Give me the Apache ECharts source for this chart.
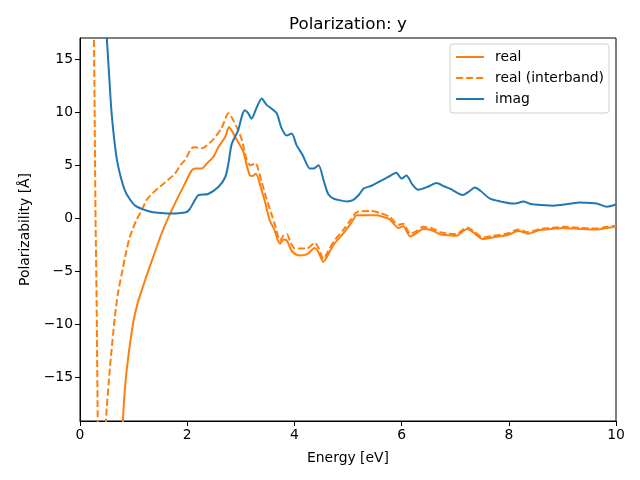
<!DOCTYPE html>
<html><head><meta charset="utf-8">
<script src="https://cdn.jsdelivr.net/npm/echarts@6/dist/echarts.min.js"></script>
<style>html,body{margin:0;padding:0;background:#fff}#c{width:640px;height:480px}</style>
</head><body><div id="c"></div>
<script>
const xTicks = [0, 2, 4, 6, 8, 10];
const yTicks = [-15, -10, -5, 0, 5, 10, 15];
const seriesNames = ['real', 'real (interband)', 'imag'];

const realData = [[0.74,-28],[0.80,-19.1],[0.84,-15.9],[0.90,-13.1],[0.99,-9.9],[1.07,-8.1],[1.15,-6.8],[1.25,-5.3],[1.34,-4.0],[1.52,-1.45],[1.65,0.1],[1.80,1.7],[1.95,3.2],[2.08,4.5],[2.15,4.7],[2.27,4.7],[2.39,5.3],[2.49,5.8],[2.58,6.7],[2.71,7.7],[2.78,8.6],[2.84,8.2],[2.89,7.7],[2.95,7.2],[3.05,6.25],[3.11,5.0],[3.17,4.05],[3.22,4.0],[3.28,4.2],[3.39,2.6],[3.46,1.4],[3.54,-0.2],[3.62,-1.0],[3.73,-2.4],[3.80,-2.0],[3.86,-2.1],[3.93,-2.9],[4.01,-3.35],[4.10,-3.5],[4.23,-3.4],[4.38,-2.8],[4.45,-3.2],[4.54,-4.1],[4.62,-3.5],[4.73,-2.5],[4.91,-1.45],[5.05,-0.5],[5.17,0.3],[5.35,0.3],[5.53,0.3],[5.65,0.15],[5.78,-0.1],[5.94,-0.9],[6.03,-0.75],[6.16,-1.7],[6.28,-1.4],[6.40,-1.0],[6.55,-1.1],[6.72,-1.5],[6.88,-1.6],[7.03,-1.65],[7.12,-1.3],[7.22,-1.0],[7.33,-1.3],[7.52,-1.95],[7.70,-1.8],[7.96,-1.6],[8.18,-1.2],[8.36,-1.45],[8.58,-1.1],[8.80,-1.0],[9.02,-0.9],[9.33,-1.0],[9.50,-1.05],[9.64,-1.05],[9.83,-0.9],[10.0,-0.8]];

const interbandData = [[0.22,30],[0.26,17.1],[0.29,0.0],[0.31,-7.7],[0.33,-19],[0.36,-35],[0.42,-40],[0.46,-24],[0.485,-19],[0.56,-14.0],[0.65,-9.3],[0.71,-7.0],[0.78,-5.2],[0.86,-3.2],[0.93,-1.75],[1.05,-0.2],[1.15,0.75],[1.24,1.7],[1.36,2.4],[1.52,3.1],[1.77,4.2],[1.87,5.0],[1.96,5.5],[2.08,6.6],[2.15,6.7],[2.27,6.6],[2.46,7.3],[2.64,8.5],[2.77,9.9],[2.86,9.25],[2.95,8.3],[3.02,7.4],[3.11,5.5],[3.18,5.0],[3.27,5.2],[3.39,3.4],[3.47,2.0],[3.58,0.3],[3.65,-0.8],[3.73,-2.1],[3.80,-1.6],[3.86,-1.5],[3.93,-2.3],[4.01,-2.85],[4.23,-2.85],[4.38,-2.3],[4.45,-2.8],[4.54,-3.8],[4.62,-3.2],[4.73,-2.2],[4.91,-1.1],[5.05,-0.15],[5.17,0.6],[5.41,0.7],[5.60,0.5],[5.78,0.15],[5.94,-0.6],[6.03,-0.5],[6.16,-1.45],[6.28,-1.2],[6.40,-0.8],[6.55,-0.9],[6.72,-1.3],[6.88,-1.45],[7.03,-1.5],[7.12,-1.15],[7.22,-0.85],[7.33,-1.15],[7.52,-1.8],[7.70,-1.65],[7.96,-1.45],[8.18,-1.05],[8.36,-1.3],[8.58,-1.0],[8.80,-0.9],[9.02,-0.8],[9.33,-0.9],[9.50,-0.95],[9.64,-0.95],[9.83,-0.8],[10.0,-0.7]];

const imagData = [[0.45,22],[0.50,17],[0.53,14.6],[0.59,9.9],[0.68,5.8],[0.76,3.9],[0.84,2.6],[0.93,1.8],[1.03,1.2],[1.18,0.85],[1.34,0.6],[1.52,0.5],[1.71,0.45],[1.88,0.5],[1.99,0.6],[2.05,0.9],[2.13,1.6],[2.21,2.2],[2.39,2.3],[2.58,2.95],[2.71,3.9],[2.77,5.2],[2.83,7.0],[2.95,8.3],[3.03,9.8],[3.08,10.2],[3.14,9.9],[3.20,9.4],[3.30,10.5],[3.39,11.3],[3.48,10.7],[3.56,10.4],[3.67,9.9],[3.76,8.5],[3.86,7.8],[3.95,8.0],[4.04,6.9],[4.15,6.0],[4.29,4.7],[4.36,4.7],[4.45,5.0],[4.55,3.5],[4.63,2.3],[4.73,1.85],[4.85,1.7],[4.98,1.6],[5.10,1.75],[5.20,2.2],[5.29,2.8],[5.45,3.1],[5.60,3.5],[5.75,3.9],[5.90,4.3],[6.00,3.75],[6.09,4.05],[6.20,3.2],[6.31,2.7],[6.50,3.0],[6.65,3.33],[6.80,3.0],[6.90,2.8],[7.14,2.2],[7.25,2.5],[7.37,2.9],[7.47,2.6],[7.65,1.85],[7.84,1.6],[8.08,1.4],[8.17,1.45],[8.27,1.6],[8.38,1.4],[8.49,1.3],[8.83,1.2],[9.10,1.35],[9.33,1.5],[9.50,1.45],[9.64,1.4],[9.83,1.1],[10.0,1.3]];

const FONT = 'DejaVu Sans';
const FS = 13.9;
const fmt = v => (v < 0 ? '\u2212' + (-v) : String(v));
const chart = echarts.init(document.getElementById('c'), null, {renderer: 'canvas'});
chart.setOption({
  animation: false,
  backgroundColor: '#fff',
  title: {text: 'Polarization: y', left: 284, top: 11,
    textStyle: {fontFamily: FONT, fontSize: 16.7, fontWeight: 'normal', color: '#000'}},
  grid: {left: 80, right: 24, top: 38, bottom: 59, show: true, borderColor: '#000', borderWidth: 1, backgroundColor: 'transparent'},
  legend: {
    orient: 'vertical', right: 31, top: 44, data: seriesNames,
    itemWidth: 28, itemHeight: 14, itemGap: 7, padding: [6, 5, 7, 5],
    borderColor: '#d0d0d0', borderWidth: 1, borderRadius: 3, backgroundColor: 'rgba(255,255,255,0.8)',
    itemStyle: {opacity: 0},
    textStyle: {fontFamily: FONT, fontSize: FS, color: '#000', padding: [0, 0, 0, 6]}
  },
  xAxis: {
    type: 'value', min: 0, max: 10,
    name: 'Energy [eV]', nameLocation: 'middle', nameGap: 30,
    nameTextStyle: {fontFamily: FONT, fontSize: FS, color: '#000'},
    axisLine: {show: true, onZero: false, lineStyle: {color: '#000'}},
    axisTick: {show: true, length: 5, lineStyle: {color: '#000'}, customValues: xTicks},
    axisLabel: {fontFamily: FONT, fontSize: FS, color: '#000', margin: 7, customValues: xTicks, formatter: fmt},
    splitLine: {show: false}
  },
  yAxis: {
    type: 'value', min: -19.1, max: 17,
    name: 'Polarizability [Å]', nameLocation: 'middle', nameGap: 48,
    nameTextStyle: {fontFamily: FONT, fontSize: FS, color: '#000'},
    axisLine: {show: true, onZero: false, lineStyle: {color: '#000'}},
    axisTick: {show: true, length: 5, lineStyle: {color: '#000'}, customValues: yTicks},
    axisLabel: {fontFamily: FONT, fontSize: FS, color: '#000', margin: 7, customValues: yTicks, formatter: fmt},
    splitLine: {show: false}
  },
  series: [
    {name: seriesNames[0], type: 'line', data: realData, symbol: 'none', smooth: 0.25, clip: true,
      lineStyle: {color: '#ff7f0e', width: 2}, itemStyle: {color: '#ff7f0e'}},
    {name: seriesNames[1], type: 'line', data: interbandData, symbol: 'none', smooth: 0.25, clip: true,
      lineStyle: {color: '#ff7f0e', width: 2, type: [7, 3]}, itemStyle: {color: '#ff7f0e'}},
    {name: seriesNames[2], type: 'line', data: imagData, symbol: 'none', smooth: 0.25, clip: true,
      lineStyle: {color: '#1f77b4', width: 2}, itemStyle: {color: '#1f77b4'}}
  ]
});
</script></body></html>
